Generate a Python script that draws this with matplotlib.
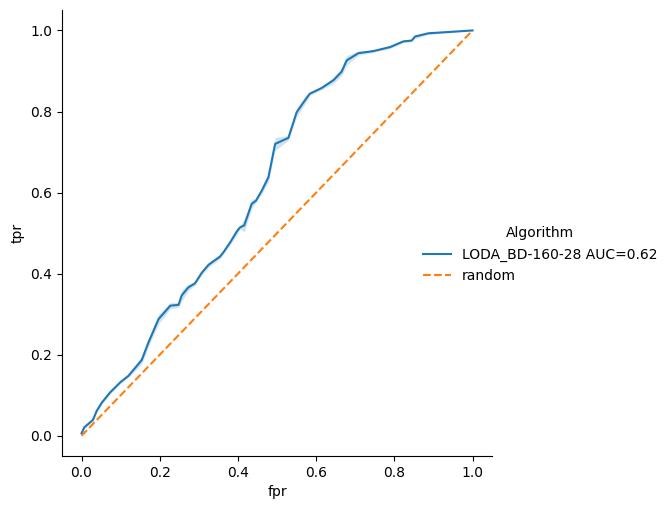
import numpy as np
import matplotlib
matplotlib.use("Agg")
import matplotlib.pyplot as plt

fpr = [0.0, 0.007, 0.029, 0.039, 0.052, 0.073, 0.099, 0.120, 0.154, 0.171, 0.197,
       0.227, 0.248, 0.256, 0.273, 0.290, 0.308, 0.325, 0.354, 0.363, 0.380, 0.397,
       0.405, 0.416, 0.435, 0.446, 0.461, 0.478, 0.495, 0.529, 0.550, 0.576, 0.584,
       0.614, 0.644, 0.665, 0.678, 0.708, 0.746, 0.789, 0.823, 0.844, 0.853, 0.887, 1.0]
tpr = [0.006, 0.021, 0.039, 0.062, 0.082, 0.107, 0.132, 0.148, 0.187, 0.230, 0.288,
       0.321, 0.323, 0.346, 0.366, 0.376, 0.403, 0.422, 0.442, 0.453, 0.477, 0.504,
       0.514, 0.519, 0.572, 0.580, 0.605, 0.638, 0.720, 0.735, 0.798, 0.834, 0.844,
       0.858, 0.877, 0.898, 0.926, 0.944, 0.949, 0.959, 0.973, 0.975, 0.985, 0.993, 1.0]
band = [0.004, 0.004, 0.003, 0.004, 0.004, 0.004, 0.004, 0.004, 0.010, 0.010, 0.012,
        0.008, 0.006, 0.014, 0.008, 0.004, 0.006, 0.006, 0.006, 0.004, 0.006, 0.008,
        0.004, 0.016, 0.012, 0.004, 0.008, 0.012, 0.016, 0.006, 0.012, 0.008, 0.004,
        0.004, 0.008, 0.010, 0.012, 0.005, 0.003, 0.004, 0.003, 0.003, 0.005, 0.003, 0.0]
rand_x = [0.0, 1.0]
rand_y = [0.0, 1.0]
labels = ["LODA_BD-160-28 AUC=0.62", "random"]

fig = plt.figure(figsize=(6.71, 5.09), dpi=100)
ax = fig.add_axes([0.0924, 0.104, 0.641, 0.876])
lo = np.array(tpr) - np.array(band)
hi = np.array(tpr) + np.array(band)
ax.fill_between(fpr, lo, hi, color="#1f77b4", alpha=0.2, linewidth=0)
l1, = ax.plot(fpr, tpr, color="#1f77b4", lw=1.5, label=labels[0])
l2, = ax.plot(rand_x, rand_y, color="#ff7f0e", lw=1.5, ls="--", label=labels[1])
ax.set_xlabel("fpr")
ax.set_ylabel("tpr")
ax.spines["top"].set_visible(False)
ax.spines["right"].set_visible(False)
ax.set_xticks([0.0, 0.2, 0.4, 0.6, 0.8, 1.0])
ax.set_yticks([0.0, 0.2, 0.4, 0.6, 0.8, 1.0])
fig.legend(handles=[l1, l2], labels=labels, title="Algorithm", frameon=False,
           loc="center left", bbox_to_anchor=(0.612, 0.5))
fig.savefig("out.png", dpi=100)
